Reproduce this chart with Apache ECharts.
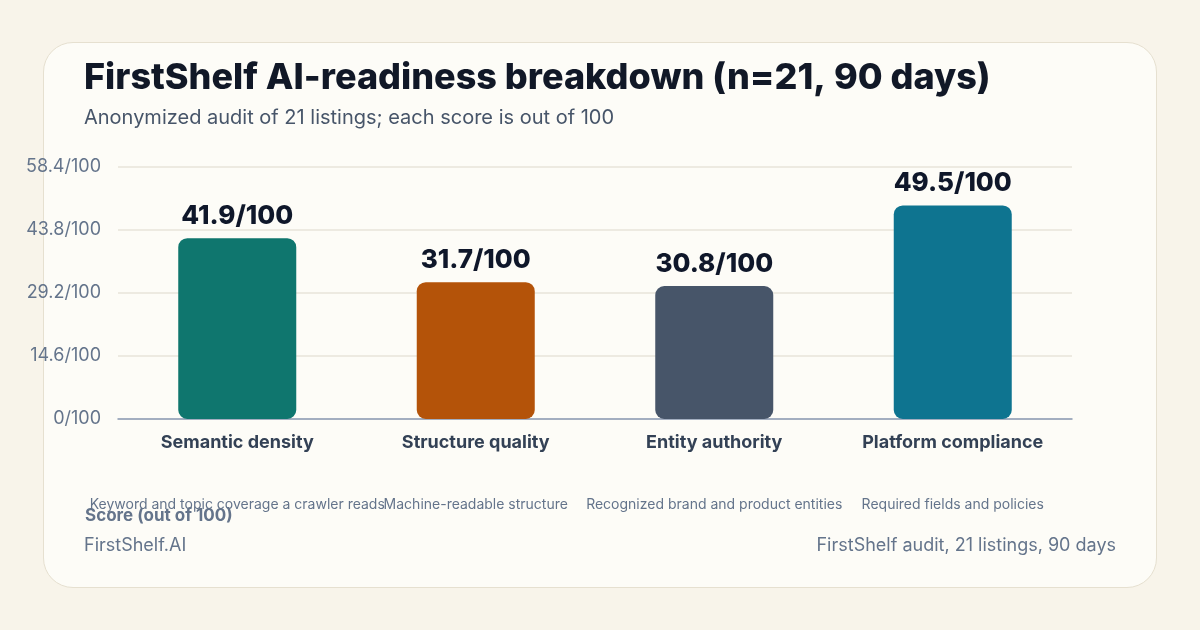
<!DOCTYPE html>
<html>
<head>
<meta charset="utf-8">
<script src="https://cdn.jsdelivr.net/npm/echarts@6/dist/echarts.min.js"></script>
<style>
  html, body { margin: 0; padding: 0; width: 1200px; height: 630px; background: #f8f4ea; overflow: hidden; }
  #card { position: absolute; left: 43px; top: 42px; width: 1114px; height: 546px; background: #fdfcf7; border: 1px solid #e6e0d0; border-radius: 30px; box-sizing: border-box; }
  #chart { position: absolute; left: 0; top: 0; width: 1200px; height: 630px; }
</style>
</head>
<body>
<div id="card"></div>
<div id="chart"></div>
<script>
const categories = ['Semantic density', 'Structure quality', 'Entity authority', 'Platform compliance'];
const descriptions = ['Keyword and topic coverage a crawler reads', 'Machine-readable structure', 'Recognized brand and product entities', 'Required fields and policies'];
const scores = [41.9, 31.7, 30.8, 49.5];
const barColors = ['#0f766e', '#b45309', '#475569', '#0e7490'];
const axisMax = 58.4;
const axisInterval = 14.6;

const FONT = 'Inter, "Noto Sans", sans-serif';
const chart = echarts.init(document.getElementById('chart'), null, { renderer: 'canvas' });

chart.setOption({
  backgroundColor: 'transparent',
  textStyle: { fontFamily: FONT },
  title: [
    { text: 'FirstShelf AI-readiness breakdown (n=21, 90 days)', left: 79, top: 55,
      textStyle: { fontFamily: FONT, fontSize: 36, fontWeight: 800, color: '#111827' } },
    { text: 'Anonymized audit of 21 listings; each score is out of 100', left: 79, top: 103,
      textStyle: { fontFamily: FONT, fontSize: 20, fontWeight: 400, color: '#475569' } },
    { text: 'Score (out of 100)', left: 80, top: 502,
      textStyle: { fontFamily: FONT, fontSize: 17, fontWeight: 700, color: '#64748b' } },
    { text: 'FirstShelf.AI', left: 79, top: 532,
      textStyle: { fontFamily: FONT, fontSize: 18, fontWeight: 400, color: '#64748b' } },
    { text: 'FirstShelf audit, 21 listings, 90 days', right: 79, top: 532,
      textStyle: { fontFamily: FONT, fontSize: 18, fontWeight: 400, color: '#64748b' } }
  ],
  grid: { left: 118, right: 128, top: 167, bottom: 211, containLabel: false },
  xAxis: {
    type: 'category',
    data: categories,
    axisLine: { show: true, lineStyle: { color: '#8a9bb5', width: 1.5 } },
    axisTick: { show: false },
    axisLabel: {
      interval: 0,
      margin: 12,
      formatter: function (v, i) { return '{n|' + v + '}\n{d|' + descriptions[i] + '}'; },
      rich: {
        n: { fontFamily: FONT, fontSize: 18, fontWeight: 700, color: '#334155', lineHeight: 24 },
        d: { fontFamily: FONT, fontSize: 14, fontWeight: 400, color: '#64748b', lineHeight: 18, padding: [81, 0, 0, 0] }
      }
    }
  },
  yAxis: {
    type: 'value',
    min: 0,
    max: axisMax,
    interval: axisInterval,
    axisLine: { show: false },
    axisTick: { show: false },
    splitLine: { lineStyle: { color: '#e7e4da', width: 1.5 } },
    axisLabel: {
      margin: 17,
      fontFamily: FONT, fontSize: 18, color: '#64748b',
      formatter: function (v) { return parseFloat(v.toFixed(1)) + '/100'; }
    }
  },
  series: [{
    type: 'bar',
    barWidth: 118,
    data: scores.map(function (v, i) {
      return { value: v, itemStyle: { color: barColors[i], borderRadius: 9 } };
    }),
    label: {
      show: true, position: 'top', distance: 9,
      fontFamily: FONT, fontSize: 26, fontWeight: 800, color: '#0f172a',
      formatter: function (p) { return p.value.toFixed(1) + '/100'; }
    }
  }]
});
</script>
</body>
</html>
